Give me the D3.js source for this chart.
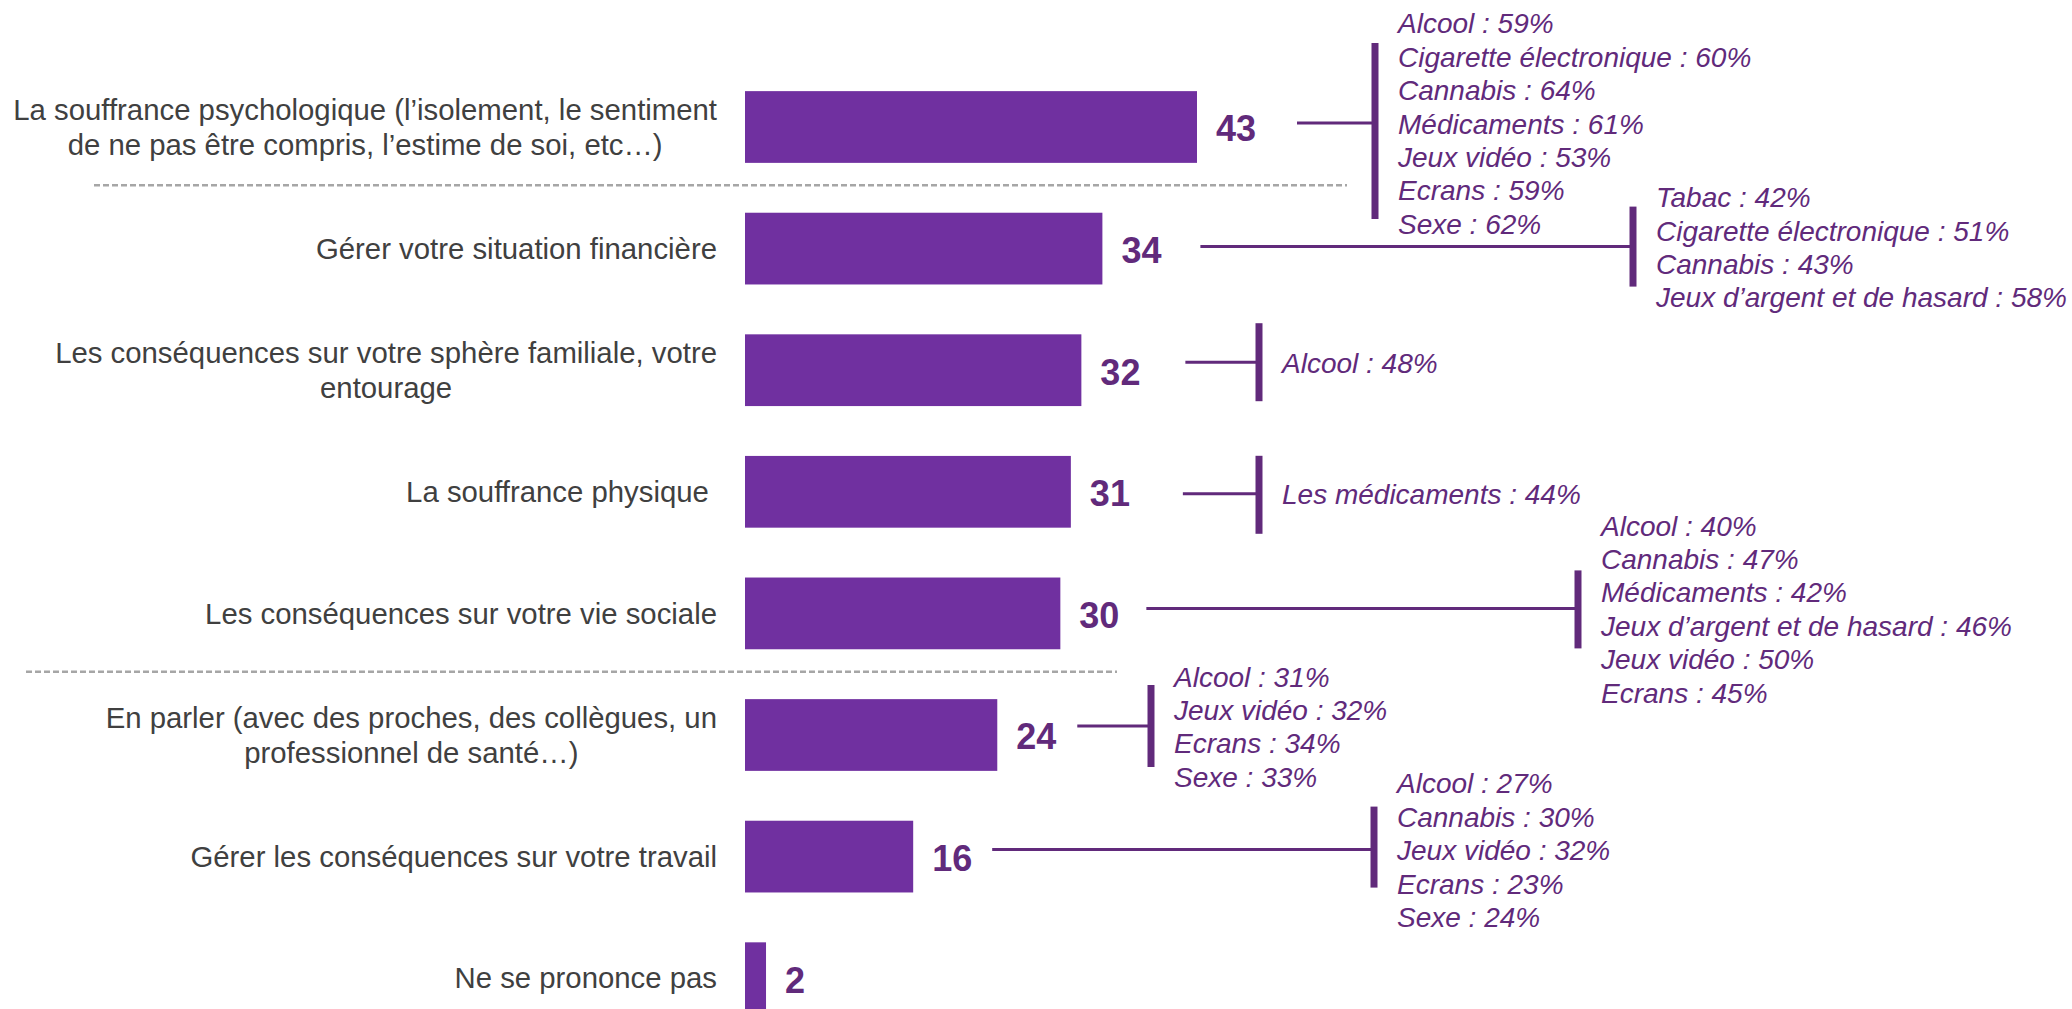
<!DOCTYPE html>
<html lang="fr">
<head>
    <meta charset="UTF-8">
    <title>Difficultés</title>
    <script src="https://d3js.org/d3.v7.min.js"></script>
    <style>
        body { margin: 0; background: #fff; }
        text { font-family: "Liberation Sans", Arial, sans-serif; }
        .cat { fill: #404040; font-size: 29.33px; white-space: pre; }
        .val { fill: #612A7B; font-size: 36px; font-weight: bold; }
        .note { fill: #612A7B; font-size: 28px; font-style: italic; }
        .bar { fill: #7030A0; }
    </style>
</head>
<body>
<svg width="2072" height="1009"></svg>
<script>
    // categories (line breaks as in the original)
    var categories = [
        ["La souffrance psychologique (l\u2019isolement, le sentiment", "de ne pas être compris, l\u2019estime de soi, etc\u2026)"],
        ["Gérer votre situation financière"],
        ["Les conséquences sur votre sphère familiale, votre", "entourage"],
        ["La souffrance physique "],
        ["Les conséquences sur votre vie sociale"],
        ["En parler (avec des proches, des collègues, un", "professionnel de santé\u2026)"],
        ["Gérer les conséquences sur votre travail"],
        ["Ne se prononce pas"]
    ];
    var values = [43, 34, 32, 31, 30, 24, 16, 2];

    // breakdown by addiction, per category
    var noteLabels = [
        ["Alcool", "Cigarette électronique", "Cannabis", "Médicaments", "Jeux vidéo", "Ecrans", "Sexe"],
        ["Tabac", "Cigarette électronique", "Cannabis", "Jeux d\u2019argent et de hasard"],
        ["Alcool"],
        ["Les médicaments"],
        ["Alcool", "Cannabis", "Médicaments", "Jeux d\u2019argent et de hasard", "Jeux vidéo", "Ecrans"],
        ["Alcool", "Jeux vidéo", "Ecrans", "Sexe"],
        ["Alcool", "Cannabis", "Jeux vidéo", "Ecrans", "Sexe"],
        []
    ];
    var notePct = [
        [59, 60, 64, 61, 53, 59, 62],
        [42, 51, 43, 58],
        [48],
        [44],
        [40, 47, 42, 46, 50, 45],
        [31, 32, 34, 33],
        [27, 30, 32, 23, 24],
        []
    ];

    // layout of the callouts (hand placed in the original)
    var connectGap = [100, 98, 104, 112, 86, 80, 79];
    var connectShift = [-4, -2, -8, 2, -5, -9, -7];
    var bracketX = [1375, 1633, 1259, 1259, 1578, 1151, 1374];
    var bracketSpan = [[-80, 96], [-40, 40], [-39, 39], [-38, 40], [-38, 40], [-41, 41], [-43, 38]];
    var separators = [[0, 94, 1347], [4, 26, 1117]];

    var svg = d3.select("svg");
    var idx = d3.range(values.length);

    var x = d3.scaleLinear().domain([0, 43]).range([745, 1197]);
    var y = d3.scaleBand().domain(idx).range([66.2, 1039])
        .paddingInner(0.41).paddingOuter(0.205);
    var mid = function(i) { return y(i) + y.bandwidth() / 2; };

    // dashed separators
    separators.forEach(function(s) {
        var yy = (y(s[0]) + y.bandwidth() + y(s[0] + 1)) / 2 - 2.5;
        svg.append("line")
            .attr("x1", s[1]).attr("x2", s[2])
            .attr("y1", yy).attr("y2", yy)
            .attr("stroke", "#A6A6A6")
            .attr("stroke-width", 2.5)
            .attr("stroke-dasharray", "6,3");
    });

    // bars
    svg.selectAll(".bar")
        .data(idx)
        .enter().append("rect")
        .attr("class", "bar")
        .attr("x", x(0))
        .attr("y", function(i) { return y(i); })
        .attr("width", function(i) { return x(values[i]) - x(0); })
        .attr("height", y.bandwidth());

    // value labels
    svg.selectAll(".val")
        .data(idx)
        .enter().append("text")
        .attr("class", "val")
        .attr("x", function(i) { return x(values[i]) + 19; })
        .attr("y", function(i) { return mid(i); })
        .attr("dy", "0.4em")
        .text(function(i) { return values[i]; });

    // category labels: block right aligned, lines centred within block
    var rightEdge = 717, lineH = 35.2;
    idx.forEach(function(i) {
        var lines = categories[i];
        var t = svg.append("text").attr("class", "cat").attr("text-anchor", "middle");
        var spans = lines.map(function(l, k) {
            return t.append("tspan")
                .attr("y", mid(i) + (k - (lines.length - 1) / 2) * lineH)
                .attr("dy", "0.35em")
                .text(l);
        });
        var w = d3.max(spans, function(s) { return s.node().getComputedTextLength(); });
        spans.forEach(function(s) { s.attr("x", rightEdge - w / 2); });
    });

    // callouts
    var noteH = 33.4;
    idx.forEach(function(i) {
        if (!noteLabels[i].length) return;
        var cy = mid(i) + connectShift[i];
        var bx = bracketX[i];
        svg.append("line")
            .attr("x1", x(values[i]) + connectGap[i]).attr("x2", bx)
            .attr("y1", cy).attr("y2", cy)
            .attr("stroke", "#612A7B").attr("stroke-width", 3);
        svg.append("line")
            .attr("x1", bx).attr("x2", bx)
            .attr("y1", cy + bracketSpan[i][0]).attr("y2", cy + bracketSpan[i][1])
            .attr("stroke", "#612A7B").attr("stroke-width", 7);
        var n = noteLabels[i].length;
        svg.append("g").selectAll("text")
            .data(noteLabels[i])
            .enter().append("text")
            .attr("class", "note")
            .attr("x", bx + 23)
            .attr("y", function(d, k) { return cy + (k - (n - 1) / 2) * noteH; })
            .attr("dy", "0.38em")
            .text(function(d, k) { return d + " : " + notePct[i][k] + "%"; });
    });
</script>
</body>
</html>
